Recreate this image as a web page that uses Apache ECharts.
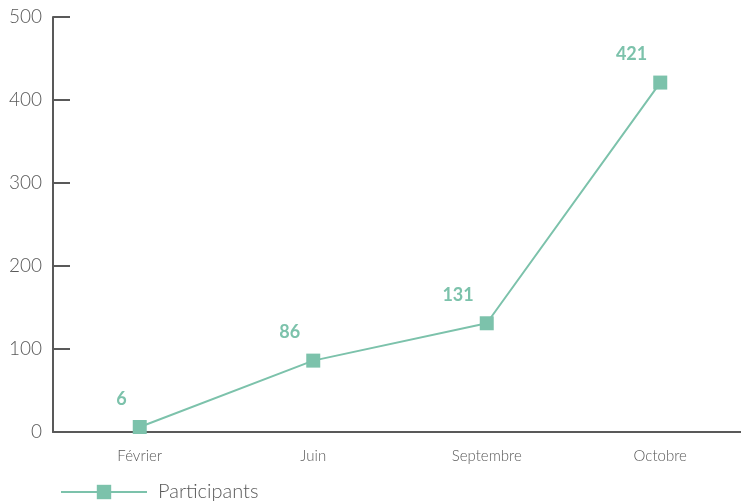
<!DOCTYPE html>
<html><head><meta charset="utf-8">
<script src="https://cdn.jsdelivr.net/npm/echarts@6/dist/echarts.min.js"></script>
<style>html,body{margin:0;padding:0;background:#fff}#c{width:741px;height:502px}</style>
</head><body><div id="c"></div>
<script>
var categories = ["Février", "Juin", "Septembre", "Octobre"];
var participants = [6, 86, 131, 421];
var seriesName = "Participants";

var chart = echarts.init(document.getElementById('c'));
var axisColor = '#595959';
var green = '#7cc2ab';
chart.setOption({
  animation: false,
  textStyle: { fontFamily: 'Lato' },
  grid: { left: 53, top: 17, bottom: 70, width: 694, outerBoundsMode: 'none' },
  legend: {
    left: 55, top: 477, itemWidth: 86, itemHeight: 18, itemGap: 11,
    textStyle: { fontSize: 20, color: axisColor, fontWeight: 300, fontFamily: 'Lato', padding: [0, 0, 0, 6] },
    data: [seriesName]
  },
  xAxis: {
    type: 'category', data: categories, boundaryGap: true,
    axisLine: { lineStyle: { color: axisColor, width: 2 } },
    axisTick: { inside: true, length: 10, lineStyle: { color: axisColor, width: 2 } },
    axisLabel: { color: axisColor, fontSize: 15, fontWeight: 300, margin: 17 }
  },
  yAxis: {
    type: 'value', min: 0, max: 500, interval: 100,
    axisLine: { show: true, lineStyle: { color: axisColor, width: 2 } },
    axisTick: { show: true, inside: true, length: 17, lineStyle: { color: axisColor, width: 2 } },
    splitLine: { show: false },
    axisLabel: { color: axisColor, fontSize: 19, fontWeight: 300, margin: 11 }
  },
  series: [{
    name: seriesName, type: 'line', data: participants,
    symbol: 'rect', symbolSize: 14,
    lineStyle: { color: green, width: 2 },
    itemStyle: { color: green },
    label: { show: true, position: 'top', align: 'right', offset: [-13, -7], color: green, fontSize: 18, fontWeight: 'bold', fontFamily: 'Lato' }
  }]
});
</script></body></html>
